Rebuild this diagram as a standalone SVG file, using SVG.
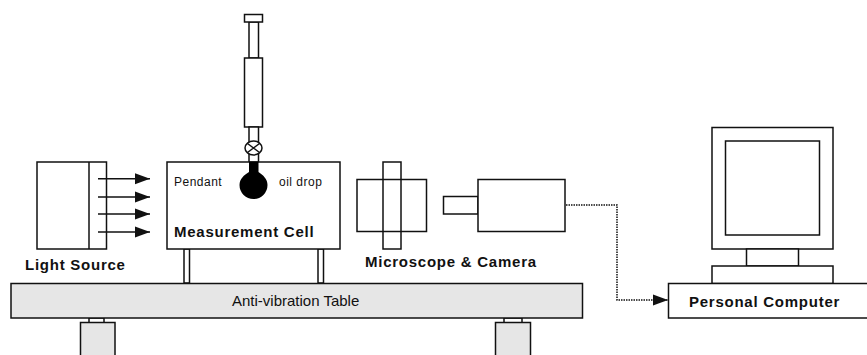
<svg xmlns="http://www.w3.org/2000/svg" width="867" height="355" viewBox="0 0 867 355">
<style>
.s{fill:#fff;stroke:#111;stroke-width:1.5}
.g{fill:#e6e6e6;stroke:#111;stroke-width:1.5}
.l{fill:none;stroke:#111;stroke-width:1.5}
.b{font-family:"Liberation Sans",Arial,sans-serif;font-weight:700;font-size:15px;letter-spacing:.75px;fill:#111}
.t{font-family:"Liberation Sans",Arial,sans-serif;font-size:12px;letter-spacing:.5px;fill:#111}
</style>
<defs>
<marker id="a" markerUnits="userSpaceOnUse" markerWidth="16" markerHeight="12" refX="15" refY="6" orient="auto"><path d="M0 0.5L15 6L0 11.5Z" fill="#111"/></marker>
</defs>
<rect width="867" height="355" fill="#fff"/>
<g id="light-source">
<rect class="s" x="37" y="162" width="69.5" height="87"/>
<path class="l" d="M89 162V249"/>
<text class="b" x="25" y="270">Light Source</text>
</g>
<g id="syringe">
<rect class="s" x="249" y="22" width="9.5" height="36"/>
<rect class="s" x="244.500" y="14.500" width="18" height="7.500"/>
<rect class="s" x="244.500" y="58" width="18" height="69"/>
<rect class="s" x="249" y="127" width="9.500" height="35"/>
<ellipse class="s" cx="253.500" cy="148" rx="8.500" ry="7"/>
<path class="l" d="M247.500 143.500L259.500 152.500M259.500 143.500L247.500 152.500"/>
</g>
<g id="measurement-cell">
<rect class="s" x="184" y="249" width="5.500" height="34"/>
<rect class="s" x="318" y="249" width="5.500" height="34"/>
<rect class="s" x="167" y="162" width="173" height="87"/>
<path d="M249 162H258.500V172C263 175 267.500 179 267.500 185A14 14 0 0 1 239.500 185C239.500 179 244 175 249 172Z" fill="#000"/>
<text class="t" x="174" y="186">Pendant</text>
<text class="t" x="279" y="186">oil drop</text>
<text class="b" x="174" y="237">Measurement Cell</text>
</g>
<g id="microscope-camera">
<rect class="s" x="357" y="179.500" width="69.500" height="52"/>
<rect class="l" x="383" y="162" width="18" height="87"/>
<rect class="s" x="443.500" y="196.500" width="34.500" height="17.500"/>
<rect class="s" x="478" y="179.500" width="87" height="52"/>
<text class="b" x="365" y="267">Microscope &amp; Camera</text>
</g>
<g id="table">
<rect class="s" x="89" y="318" width="15" height="5"/>
<rect class="s" x="504" y="318" width="18" height="5"/>
<rect class="g" x="80.500" y="322.500" width="34.500" height="40"/>
<rect class="g" x="495.500" y="322.500" width="35" height="40"/>
<rect class="g" x="11" y="283.500" width="571.500" height="34.500"/>
<text class="t" x="232" y="306" style="font-size:15px;letter-spacing:0">Anti-vibration Table</text>
</g>
<g id="computer">
<rect class="s" x="712" y="127.500" width="121" height="121.500"/>
<rect class="s" x="725.500" y="141" width="94" height="94"/>
<rect class="s" x="746.500" y="249" width="52" height="17"/>
<rect class="s" x="712" y="266" width="121" height="17.500"/>
<rect class="s" x="668.500" y="283.500" width="200" height="34.500"/>
<text class="b" x="689" y="307">Personal Computer</text>
</g>
<g id="connectors">
<path class="l" marker-end="url(#a)" d="M98 178.700H150"/>
<path class="l" marker-end="url(#a)" d="M98 197H150"/>
<path class="l" marker-end="url(#a)" d="M98 214H150"/>
<path class="l" marker-end="url(#a)" d="M98 232H150"/>
<path class="l" stroke-dasharray="1.500 1" marker-end="url(#a)" d="M566 205H617V300H668"/>
</g>
</svg>
